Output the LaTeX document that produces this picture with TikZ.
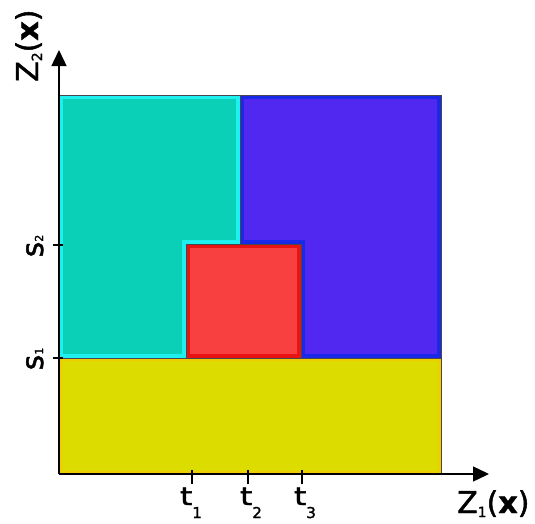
\documentclass[tikz,border=0pt]{standalone}
\usepackage{fontspec}
\setmainfont{DejaVu Sans}
\newfontfamily\heavyfont{DejaVu Sans}[FakeBold=1.5, BoldFont={DejaVu Sans Bold}]
\usetikzlibrary{arrows.meta}
\definecolor{cyanfill}{RGB}{11,208,184}
\definecolor{cyanedge}{RGB}{30,240,240}
\definecolor{bluefill}{RGB}{80,40,240}
\definecolor{blueedge}{RGB}{26,40,232}
\definecolor{redfill}{RGB}{248,64,64}
\definecolor{rededge}{RGB}{232,20,20}
\definecolor{yelfill}{RGB}{220,220,0}
\definecolor{yeledge}{RGB}{240,205,0}
\definecolor{outlinegray}{RGB}{70,70,80}
\newcommand\myregion[4]{%
  \begin{scope}
    \clip #1;
    \fill[#2] #1;
    \draw[#3, line width=#4] #1;
  \end{scope}
  \draw[outlinegray, line width=1pt] #1;}
\newcommand\tsub[1]{\raisebox{-13pt}{\fontsize{15}{15}\selectfont #1}}
\newcommand\zsub[1]{\raisebox{-4pt}{\fontsize{14}{14}\selectfont #1}}
\newcommand\ssub[1]{\raisebox{0pt}{\fontsize{11}{11}\selectfont #1}}
\newcommand\widet{\scalebox{1.25}[1]{t}}
\tikzset{
  axis/.style={line width=1.4pt, -{Triangle[length=16pt,width=15pt]}},
  tickmark/.style={line width=2.4pt},
  tlab/.style={inner sep=0pt, font=\heavyfont\fontsize{25}{28}\selectfont, anchor=base},
  slab/.style={inner sep=0pt, font=\heavyfont\fontsize{30}{33}\selectfont, anchor=base, rotate=90},
  zlab/.style={inner sep=0pt, font=\heavyfont\fontsize{30}{34}\selectfont, anchor=base west},
}
\begin{document}
\begin{tikzpicture}[x=1pt, y=-1pt]
\useasboundingbox (0,0) rectangle (535,523);
% regions
\myregion{(59,95) -- (240,95) -- (240,244) -- (186,244) -- (186,358) -- (59,358) -- cycle}{cyanfill}{cyanedge}{8pt}
\myregion{(240,95) -- (441,95) -- (441,358) -- (301,358) -- (301,244) -- (240,244) -- cycle}{bluefill}{blueedge}{8pt}
\myregion{(186,244) rectangle (301,358)}{redfill}{rededge}{8pt}
\myregion{(59,358) rectangle (441,474)}{yelfill}{yeledge}{6pt}
% axes
\coordinate (O) at (59,474);
\coordinate (ytip) at (59,50);
\coordinate (xtip) at (489,474);
\draw[axis] (O) -- (ytip);
\draw[axis] (O) -- (xtip);
% ticks
\foreach \n/\x in {1/192,2/248,3/302}{
  \coordinate (ta\n) at (\x,470);
  \coordinate (tb\n) at (\x,484);
  \draw[tickmark] (ta\n) -- (tb\n);
}
\foreach \n/\y in {1/358,2/245}{
  \coordinate (sa\n) at (53,\y);
  \coordinate (sb\n) at (63,\y);
  \draw[tickmark] (sa\n) -- (sb\n);
}
% labels
\node[tlab] (t1) at (191,505) {\widet\tsub{1}};
\node[tlab] (t2) at (251,505) {\widet\tsub{2}};
\node[tlab] (t3) at (305,505) {\widet\tsub{3}};
\node[slab] (s1) at (43,359) {s\ssub{1}};
\node[slab] (s2) at (43,246) {s\ssub{2}};
\node[zlab] (z1) at (457,513) {Z\zsub{1}(\textbf{x})};
\node[zlab, rotate=90] (z2) at (38,82) {Z\zsub{2}(\textbf{x})};
\end{tikzpicture}
\end{document}
